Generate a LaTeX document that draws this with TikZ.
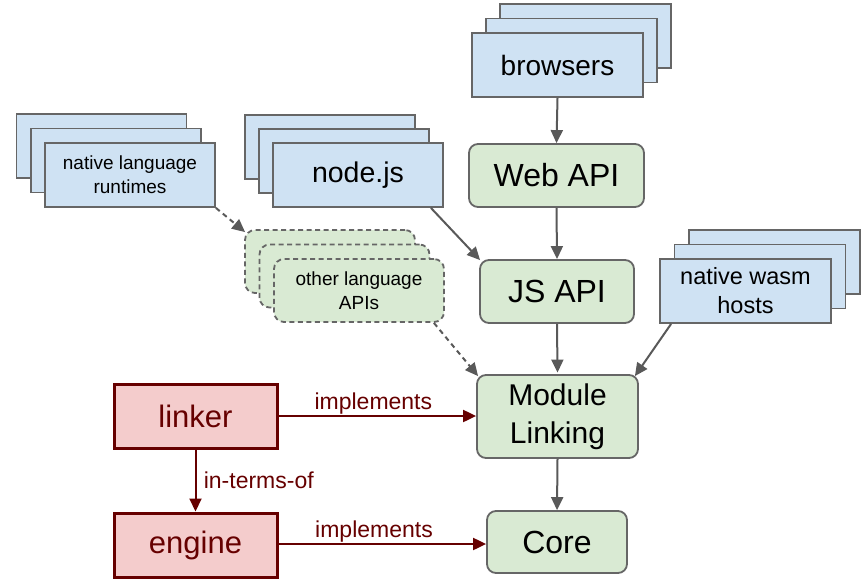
\documentclass[tikz,border=0pt]{standalone}
\usepackage{fontspec}
\setmainfont{Liberation Sans}
\usetikzlibrary{arrows.meta,calc}
\definecolor{bluefill}{HTML}{CFE2F3}
\definecolor{greenfill}{HTML}{D9EAD3}
\definecolor{redfill}{HTML}{F4CCCC}
\definecolor{darkred}{HTML}{660000}
\definecolor{edgegray}{HTML}{666666}
\definecolor{conngray}{HTML}{595959}
\tikzset{
 bluebox/.style={draw=edgegray, fill=bluefill, line width=1.8pt, inner sep=0pt, align=center},
 greenbox/.style={draw=edgegray, fill=greenfill, line width=1.8pt, rounded corners=9pt, inner sep=0pt, align=center},
 dashbox/.style={draw=edgegray, fill=greenfill, line width=1.8pt, rounded corners=10pt, dash pattern=on 5pt off 3.5pt, inner sep=0pt, align=center},
 redbox/.style={draw=darkred, fill=redfill, line width=3pt, inner sep=0pt, text=darkred},
 sz/.style 2 args={minimum width=#1pt, minimum height=#2pt},
 conn/.style={draw=conngray, line width=2pt, -{Triangle[length=13pt,width=12pt]}},
 dconn/.style={conn, dash pattern=on 5pt off 4pt},
 rconn/.style={draw=darkred, line width=2pt, -{Triangle[length=13pt,width=12pt]}},
 lbl/.style={text=darkred, font=\fontsize{23}{28}\selectfont}
}
\begin{document}
\begin{tikzpicture}[x=1pt,y=-1pt]
\useasboundingbox (0,0) rectangle (866,578);

% browsers stack
\node[bluebox, sz={171}{64}] (brB) at (585.5,36) {};
\node[bluebox, sz={171}{64}] (brM) at (571.5,50.5) {};
\node[bluebox, sz={171}{64}, font=\fontsize{28}{34}\selectfont] (br) at (557.5,65) {browsers};

% node.js stack
\node[bluebox, sz={170}{64}] (njB) at (330,147) {};
\node[bluebox, sz={170}{64}] (njM) at (344,161) {};
\node[bluebox, sz={170}{64}, font=\fontsize{28.5}{35}\selectfont] (nj) at (358,175) {node.js};

% native language runtimes stack
\node[bluebox, sz={170}{64}] (nlB) at (101.5,146) {};
\node[bluebox, sz={170}{64}] (nlM) at (116,160.5) {};
\node[bluebox, sz={170}{64}, font=\fontsize{19}{24}\selectfont] (nl) at (130,175) {native language\\runtimes};

% other language APIs stack
\node[dashbox, sz={170}{63}] (olB) at (330,261.5) {};
\node[dashbox, sz={170}{63}] (olM) at (344.5,276) {};
\node[dashbox, sz={170}{63}, font=\fontsize{19}{24}\selectfont] (ol) at (359,290.5) {other language\\APIs};

% native wasm hosts stack
\node[bluebox, sz={171}{64}] (nwB) at (774.5,262) {};
\node[bluebox, sz={171}{64}] (nwM) at (760,276.5) {};
\node[bluebox, sz={171}{64}, font=\fontsize{23.5}{29}\selectfont] (nw) at (745.5,291) {native wasm\\hosts};

% green boxes
\node[greenbox, sz={175}{63}, font=\fontsize{32}{40}\selectfont] (web) at (556.5,175.5) {Web API};
\node[greenbox, sz={154}{63}, font=\fontsize{32}{40}\selectfont] (js) at (557,291.5) {JS API};
\node[greenbox, sz={161}{83}, font=\fontsize{30}{38}\selectfont] (ml) at (557.5,416.5) {Module\\Linking};
\node[greenbox, sz={140}{62}, font=\fontsize{32}{40}\selectfont] (core) at (557,542) {Core};

% red boxes
\node[redbox, sz={163}{64}, font=\fontsize{31}{38}\selectfont] (linker) at (195.5,416) {linker};
\node[redbox, sz={163}{64}, font=\fontsize{31}{38}\selectfont] (engine) at (195.5,545) {engine};

% gray connectors
\draw[conn] (br.south) -- (web.north);
\draw[conn] (web.south) -- (js.north);
\draw[conn] (js.south) -- ([yshift=1.5pt]ml.north);
\draw[conn] (ml.south) -- (core.north);
\draw[conn] ([xshift=-13pt]nj.south east) -- ([xshift=1pt,yshift=-1pt]js.north west);
\draw[conn] ([xshift=12pt]nw.south west) -- ([xshift=-4pt,yshift=-2pt]ml.north east);
\draw[dconn] ([xshift=-11pt]ol.south east) -- ([xshift=2pt,yshift=-2pt]ml.north west);
\draw[dconn] (nl.south east) -- ([xshift=1pt,yshift=-3pt]olB.north west);

% red connectors
\draw[rconn] (linker.east) -- (linker.east -| ml.west) node[pos=0.48, above=-3pt, lbl] {implements};
\draw[rconn] ([yshift=1pt]engine.east) -- ([yshift=1pt]engine.east -| core.west) node[pos=0.46, above=-3pt, lbl] {implements};
\draw[rconn] (linker.south) -- (engine.north) node[midway, right=4pt, lbl] {in-terms-of};
\end{tikzpicture}
\end{document}
